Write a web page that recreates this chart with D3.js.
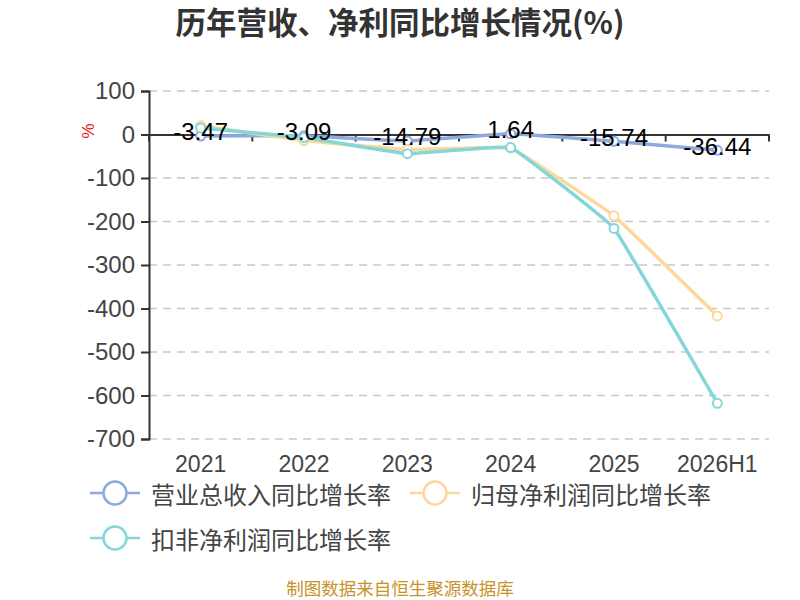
<!DOCTYPE html>
<html>
<head>
<meta charset="utf-8">
<script src="https://cdn.jsdelivr.net/npm/d3@7/dist/d3.min.js"></script>
<style>
  html, body { margin: 0; padding: 0; background: #fff; }
  svg { display: block; font-family: "Liberation Sans", "Noto Sans CJK SC", sans-serif; }
</style>
</head>
<body>
<svg id="chart" width="800" height="600"></svg>
<script>
const categories = ["2021", "2022", "2023", "2024", "2025", "2026H1"];
const revenueGrowth = [-3.47, -3.09, -14.79, 1.64, -15.74, -36.44];
const netProfitGrowth = [20, -14, -35, -31, -187, -417];
const deductedProfitGrowth = [15, -7, -44, -30, -216, -618];
const yTicks = [100, 0, -100, -200, -300, -400, -500, -600, -700];
const seriesNames = ["营业总收入同比增长率", "归母净利润同比增长率", "扣非净利润同比增长率"];
const seriesColors = ["#8eaadc", "#fdd89b", "#84d6d8"];

const svg = d3.select("#chart");
const x = d3.scaleBand().domain(categories).range([149, 769]);
const y = d3.scaleLinear().domain([-700, 100]).range([439, 91]);
const cx = d => x(d) + x.bandwidth() / 2;

// title
svg.append("text").attr("x", 400).attr("y", 34).attr("text-anchor", "middle")
  .attr("font-size", 30.5).attr("font-weight", "bold").attr("fill", "#333")
  .attr("font-family", "'Noto Sans CJK SC', sans-serif")
  .text("历年营收、净利同比增长情况(%)");

// grid lines
svg.append("g").selectAll("line").data(yTicks.filter(t => t !== 0)).join("line")
  .attr("x1", 149).attr("x2", 769).attr("y1", d => y(d)).attr("y2", d => y(d))
  .attr("stroke", "#c8c8c8").attr("stroke-width", 1.5).attr("stroke-dasharray", "8,6");

// y axis
const yAxis = d3.axisLeft(y).tickValues(yTicks).tickSize(8).tickPadding(6).tickFormat(d => String(d));
const gy = svg.append("g").attr("transform", "translate(149,0)").call(yAxis);
gy.select(".domain").attr("stroke", "#333").attr("stroke-width", 2);
gy.selectAll(".tick line").attr("stroke", "#333").attr("stroke-width", 2);
gy.selectAll(".tick text").attr("font-size", 24).attr("fill", "#444")
  .attr("font-family", "'Liberation Sans', sans-serif");

// unit label
svg.append("text").attr("transform", "translate(86,131) rotate(90)")
  .attr("text-anchor", "middle").attr("dominant-baseline", "middle")
  .attr("font-size", 17).attr("fill", "#e8231f").text("%");

// x axis on zero
const xAxis = d3.axisBottom(x).tickSizeOuter(0).tickSize(0).tickFormat("");
const gx = svg.append("g").attr("transform", `translate(0,${y(0)})`).call(xAxis);
gx.select(".domain").attr("stroke", "#333").attr("stroke-width", 2);
// band boundary ticks
const boundaries = categories.map(c => x(c)).concat([x.range()[1]]);
svg.append("g").selectAll("line").data(boundaries).join("line")
  .attr("x1", d => d).attr("x2", d => d).attr("y1", y(0)).attr("y2", y(0) + 7)
  .attr("stroke", "#333").attr("stroke-width", 2);
// x labels at bottom
svg.append("g").selectAll("text").data(categories).join("text")
  .attr("x", d => cx(d)).attr("y", 472).attr("text-anchor", "middle")
  .attr("font-size", 23).attr("fill", "#444")
  .attr("font-family", "'Liberation Sans', sans-serif").text(d => d);

// series
const allSeries = [revenueGrowth, netProfitGrowth, deductedProfitGrowth];
const line = d3.line().x((d, i) => cx(categories[i])).y(d => y(d)).curve(d3.curveCardinal.tension(0.8));
allSeries.forEach((vals, si) => {
  const g = svg.append("g");
  g.append("path").datum(vals).attr("d", line).attr("fill", "none")
    .attr("stroke", seriesColors[si]).attr("stroke-width", 3.5).attr("stroke-linejoin", "round");
  g.selectAll("circle").data(vals).join("circle")
    .attr("cx", (d, i) => cx(categories[i])).attr("cy", d => y(d)).attr("r", 4.5)
    .attr("fill", "#fff").attr("stroke", seriesColors[si]).attr("stroke-width", 2);
});

// data labels for revenue
svg.append("g").selectAll("text").data(revenueGrowth).join("text")
  .attr("x", (d, i) => cx(categories[i])).attr("y", d => y(d) - 2)
  .attr("text-anchor", "middle").attr("dominant-baseline", "middle")
  .attr("font-size", 24).attr("fill", "#000")
  .attr("font-family", "'Liberation Sans', sans-serif")
  .text(d => d.toFixed(2));

// legend
const legendItems = [
  { name: seriesNames[0], color: seriesColors[0], x: 90, y: 493 },
  { name: seriesNames[1], color: seriesColors[1], x: 410, y: 493 },
  { name: seriesNames[2], color: seriesColors[2], x: 90, y: 538 }
];
const lg = svg.append("g").selectAll("g").data(legendItems).join("g")
  .attr("transform", d => `translate(${d.x},${d.y})`);
lg.append("line").attr("x1", 0).attr("x2", 50).attr("y1", 0).attr("y2", 0)
  .attr("stroke", d => d.color).attr("stroke-width", 2.5);
lg.append("circle").attr("cx", 25).attr("cy", 0).attr("r", 11.5)
  .attr("fill", "#fff").attr("stroke", d => d.color).attr("stroke-width", 2.5);
lg.append("text").attr("x", 61).attr("y", 0).attr("dominant-baseline", "central")
  .attr("font-size", 24).attr("fill", "#444")
  .attr("font-family", "'Noto Sans CJK SC', sans-serif").text(d => d.name);

// footer
svg.append("text").attr("x", 400).attr("y", 590).attr("text-anchor", "middle")
  .attr("dominant-baseline", "middle").attr("font-size", 17.5).attr("fill", "#c8922a")
  .attr("font-family", "'Noto Sans CJK SC', sans-serif")
  .text("制图数据来自恒生聚源数据库");
</script>
</body>
</html>
